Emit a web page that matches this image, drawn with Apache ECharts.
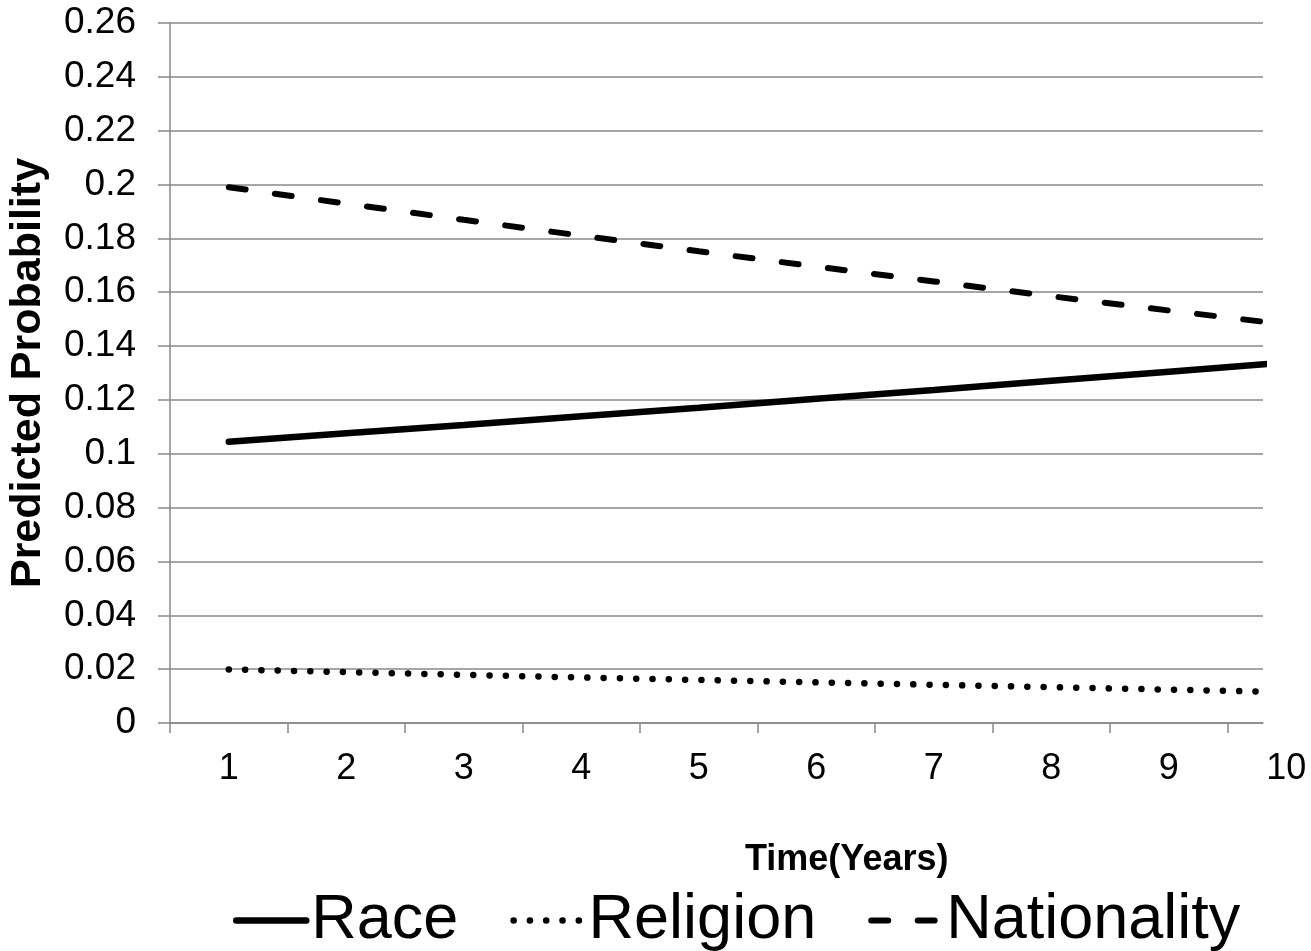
<!DOCTYPE html>
<html>
<head>
<meta charset="utf-8">
<script src="https://cdn.jsdelivr.net/npm/echarts@6/dist/echarts.min.js"></script>
<style>html,body{margin:0;padding:0;background:#fff}#c{width:1311px;height:951px}</style>
</head>
<body>
<div id="c"></div>
<script>
const categories = ['1','2','3','4','5','6','7','8','9','10'];
const years = [1,2,3,4,5,6,7,8,9,10];
const race = [0.1045,0.1076,0.1107,0.1139,0.1171,0.1204,0.1237,0.1271,0.1305,0.1339];
const religion = [0.0199,0.0189,0.0179,0.0169,0.0160,0.0151,0.0142,0.0133,0.0124,0.0115];
const nationality = [0.1990,0.1929,0.1869,0.1810,0.1752,0.1695,0.1640,0.1585,0.1532,0.1480];
const yTicks = {min:0, max:0.26, interval:0.02};
const seriesNames = ['Race','Religion','Nationality'];

const FONT = '"Liberation Sans", Arial, sans-serif';
const GRAY = '#898989';
const pairs = v => years.map((x,i)=>[x, v[i]]);

const chart = echarts.init(document.getElementById('c'), null, {renderer:'canvas'});
chart.setOption({
  animation:false,
  backgroundColor:'#fff',
  title:{text:'Time(Years)', left:740, top:837, textStyle:{fontFamily:FONT, fontSize:36, fontWeight:'bold', color:'#000'}},
  legend:{
    left:228, top:884, itemWidth:70, itemHeight:16, itemGap:52,
    textStyle:{fontFamily:FONT, fontSize:63, color:'#000'},
    itemStyle:{opacity:0},
    lineStyle:{width:'inherit', opacity:1},
    data:seriesNames
  },
  grid:[
    {left:170, right:48, top:23, bottom:228, outerBoundsMode:'none', containLabel:false},
    {left:170, right:-34, top:23, bottom:228, outerBoundsMode:'none', containLabel:false}
  ],
  xAxis:[
    {type:'value', gridIndex:0, min:0.5, max:9.8,
     axisLine:{show:true, lineStyle:{color:GRAY, width:1.5}},
     axisTick:{show:false}, axisLabel:{show:false}, splitLine:{show:false}},
    {type:'category', gridIndex:1, data:categories, boundaryGap:true,
     axisLine:{show:false},
     axisTick:{show:true, length:10, lineStyle:{color:GRAY, width:1.5}},
     axisLabel:{fontFamily:FONT, fontSize:36, color:'#000', margin:28},
     splitLine:{show:false}}
  ],
  yAxis:[
    {type:'value', gridIndex:0, min:yTicks.min, max:yTicks.max, interval:yTicks.interval,
     axisLine:{show:true, lineStyle:{color:GRAY, width:1.5}},
     axisTick:{show:true, length:12, lineStyle:{color:GRAY, width:1.5}},
     axisLabel:{fontFamily:FONT, fontSize:37, color:'#000', margin:34},
     splitLine:{show:true, lineStyle:{color:GRAY, width:1.5}},
     name:'Predicted Probability', nameLocation:'middle', nameGap:120,
     nameTextStyle:{fontFamily:FONT, fontSize:43, fontWeight:'bold', color:'#000'}},
    {type:'value', gridIndex:1, show:false, min:0, max:1}
  ],
  series:[
    {name:'Race', type:'line', xAxisIndex:0, yAxisIndex:0, data:pairs(race), symbol:'none',
     lineStyle:{color:'#000', width:6.5, cap:'round'}, itemStyle:{color:'#000'}},
    {name:'Religion', type:'line', xAxisIndex:0, yAxisIndex:0, data:pairs(religion), symbol:'none',
     lineStyle:{color:'#000', width:6.5, type:[0.1,16.2], cap:'round'}, itemStyle:{color:'#000'}},
    {name:'Nationality', type:'line', xAxisIndex:0, yAxisIndex:0, data:pairs(nationality), symbol:'none',
     lineStyle:{color:'#000', width:6, type:[17,29.5], cap:'round'}, itemStyle:{color:'#000'}}
  ]
});
</script>
</body>
</html>
